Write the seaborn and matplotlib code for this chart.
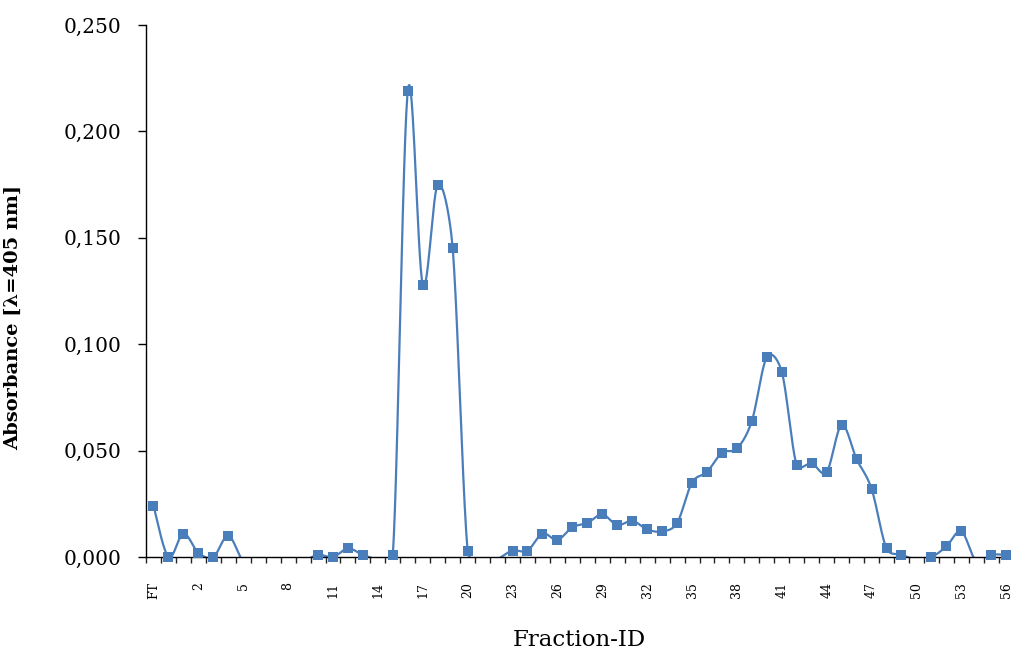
import numpy as np
import pandas as pd
import seaborn as sns
import matplotlib
matplotlib.use("Agg")
import matplotlib.pyplot as plt

# Fraction identifiers (flow-through followed by numbered fractions)
fractions = ["FT"] + [str(i) for i in range(0, 57)]

# Absorbance at 405 nm per fraction (values below zero fall under the axis)
absorbance = [
    0.024, 0.000, 0.011, 0.002, 0.000, 0.010, -0.002, -0.004, -0.004, -0.004,
    -0.002, 0.001, 0.000, 0.004, 0.001, -0.001, 0.001, 0.219, 0.128, 0.175,
    0.145, 0.003, -0.004, -0.001, 0.003, 0.003, 0.011, 0.008, 0.014, 0.016,
    0.020, 0.015, 0.017, 0.013, 0.012, 0.016, 0.035, 0.040, 0.049, 0.051,
    0.064, 0.094, 0.087, 0.043, 0.044, 0.040, 0.062, 0.046, 0.032, 0.004,
    0.001, -0.001, 0.000, 0.005, 0.012, -0.002, 0.001, 0.001,
]

y_ticks = [0.000, 0.050, 0.100, 0.150, 0.200, 0.250]
y_tick_labels = ["0,000", "0,050", "0,100", "0,150", "0,200", "0,250"]

COLOR = "#4a7ebb"

df = pd.DataFrame({"pos": np.arange(len(fractions)), "fraction": fractions,
                   "absorbance": absorbance})


def smooth_curve(x, y, sx=1.0, sy=1.0, n=30, tension=1 / 6):
    """Spreadsheet-style smoothed line: cubic Bezier segments whose control
    arms are (next - previous) * tension, limited to half the segment length.
    Computed in display-like units (sx, sy)."""
    P = np.column_stack([np.asarray(x, float) * sx, np.asarray(y, float) * sy])
    P = np.vstack([P[0], P, P[-1]])
    t = np.linspace(0, 1, n, endpoint=False)[:, None]
    pieces = []
    for i in range(1, len(P) - 2):
        p0, p1, p2, p3 = P[i - 1], P[i], P[i + 1], P[i + 2]
        d12 = np.linalg.norm(p2 - p1)
        a1 = (p2 - p0) * tension
        a2 = (p3 - p1) * tension
        n1, n2 = np.linalg.norm(a1), np.linalg.norm(a2)
        if n1 > d12 / 2:
            a1 *= (d12 / 2) / n1
        if n2 > d12 / 2:
            a2 *= (d12 / 2) / n2
        c1 = p1 + a1
        c2 = p2 - a2
        seg = ((1 - t) ** 3 * p1 + 3 * (1 - t) ** 2 * t * c1
               + 3 * (1 - t) * t ** 2 * c2 + t ** 3 * p2)
        pieces.append(seg)
    pieces.append(P[-2][None, :])
    out = np.vstack(pieces)
    return out[:, 0] / sx, out[:, 1] / sy


# plot units: 15 px per fraction, 532 px per 0.25 absorbance
cx, cy = smooth_curve(df["pos"], df["absorbance"], sx=15.0, sy=532 / 0.25)
curve = pd.DataFrame({"pos": cx, "absorbance": cy})

sns.set_theme(style="ticks")
plt.rcParams["font.family"] = ["DejaVu Serif"]

fig = plt.figure(figsize=(10.12, 6.53), dpi=100)
ax = fig.add_axes([146 / 1012, 96 / 653, (1013.7 - 146) / 1012, 532 / 653])

sns.lineplot(data=curve, x="pos", y="absorbance", sort=False, color=COLOR,
             linewidth=1.6, ax=ax, zorder=2)
shown = df[df["absorbance"] >= 0]
sns.scatterplot(data=shown, x="pos", y="absorbance", marker="s", s=55,
                color=COLOR, edgecolor=COLOR, linewidth=0, ax=ax,
                zorder=4, clip_on=False)

ax.set_xlim(-0.5, len(fractions) - 0.5)
ax.set_ylim(0, 0.25)

# y axis
ax.set_yticks(y_ticks)
ax.set_yticklabels(y_tick_labels)
ax.tick_params(axis="y", direction="out", length=6, width=1, pad=11.5,
               labelsize=14.5, colors="black")

# x axis: ticks at category boundaries, labels on every third category
ax.set_xticks(np.arange(-0.5, len(fractions), 1.0))
ax.set_xticklabels([])
ax.tick_params(axis="x", which="major", direction="out", length=4.5, width=1)
label_pos = np.arange(0, len(fractions), 3)
ax.set_xticks(label_pos, minor=True)
ax.set_xticklabels([fractions[i] for i in label_pos], minor=True,
                   rotation=90, fontsize=9)
ax.tick_params(axis="x", which="minor", length=0, pad=18, colors="black")

ax.set_xlabel("Fraction-ID", fontsize=16.5, color="black")
ax.set_ylabel("Absorbance [λ=405 nm]", fontsize=14, fontweight="bold",
              color="black")
ax.yaxis.set_label_coords(-0.143, 0.451)
ax.xaxis.set_label_coords(0.5, -0.135)

for side in ("top", "right"):
    ax.spines[side].set_visible(False)
for side in ("left", "bottom"):
    ax.spines[side].set_color("black")
    ax.spines[side].set_linewidth(1.0)
    ax.spines[side].set_zorder(3)

fig.savefig("out.png", dpi=100)
